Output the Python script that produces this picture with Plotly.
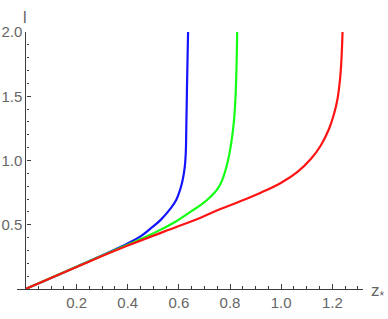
import plotly.graph_objects as go

# Data
z_blue = [0, 0.2, 0.4, 0.45, 0.488, 0.53, 0.567, 0.59, 0.606, 0.615, 0.623, 0.627, 0.629, 0.632, 0.636]
l_blue = [0, 0.174, 0.355, 0.41, 0.468, 0.54, 0.625, 0.695, 0.78, 0.85, 0.95, 1.06, 1.25, 1.6, 2.0]

z_green = [0, 0.2, 0.4, 0.48, 0.527, 0.59, 0.645, 0.69, 0.724, 0.75, 0.769, 0.791, 0.805, 0.815, 0.822, 0.828]
l_green = [0, 0.173, 0.345, 0.415, 0.46, 0.527, 0.60, 0.66, 0.718, 0.775, 0.845, 0.99, 1.14, 1.3, 1.52, 2.0]

z_red = [0, 0.2, 0.4, 0.6, 0.685, 0.76, 0.84, 0.92, 1.0, 1.064, 1.116, 1.155, 1.187, 1.207, 1.22, 1.23, 1.236, 1.24]
l_red = [0, 0.172, 0.338, 0.49, 0.555, 0.62, 0.683, 0.749, 0.827, 0.912, 1.012, 1.117, 1.245, 1.365, 1.476, 1.63, 1.8, 2.0]

x_ticks = [0.2, 0.4, 0.6, 0.8, 1.0, 1.2]
x_ticklabels = ["0.2", "0.4", "0.6", "0.8", "1.0", "1.2"]
y_ticks = [0.5, 1.0, 1.5, 2.0]
y_ticklabels = ["0.5", "1.0", "1.5", "2.0"]

X_RANGE = [-0.033, 1.32]
Y_RANGE = [0, 2.0]
AXIS_COLOR = "#3c3c3c"
TEXT_COLOR = "#666666"
FONT = "Liberation Sans, Arial, sans-serif"

fig = go.Figure()
for zs, ls, col in [(z_blue, l_blue, "#1414ff"), (z_green, l_green, "#14ff14"), (z_red, l_red, "#ff1414")]:
    fig.add_trace(go.Scatter(x=zs, y=ls, mode="lines",
                             line=dict(color=col, width=2.2, shape="spline", smoothing=1.2),
                             showlegend=False, hoverinfo="skip"))

ypos = (0 - X_RANGE[0]) / (X_RANGE[1] - X_RANGE[0])

fig.update_layout(
    width=388, height=319,
    margin=dict(l=17, r=25, t=32, b=30),
    paper_bgcolor="white", plot_bgcolor="white",
    font=dict(family=FONT, size=15, color=TEXT_COLOR),
    xaxis=dict(range=X_RANGE, showgrid=False, zeroline=False, automargin=False,
               showline=True, linecolor=AXIS_COLOR, linewidth=1.3,
               ticks="inside", ticklen=4.5, tickwidth=1, tickcolor=AXIS_COLOR,
               tickvals=x_ticks, ticktext=x_ticklabels,
               minor=dict(dtick=0.05, tick0=0, ticks="inside", ticklen=2.5, tickcolor=AXIS_COLOR, tickwidth=1),
               tickfont=dict(size=15, color=TEXT_COLOR)),
    yaxis=dict(range=Y_RANGE, showgrid=False, zeroline=False, automargin=False,
               anchor="free", position=ypos,
               showline=True, linecolor=AXIS_COLOR, linewidth=1.3,
               ticks="inside", ticklen=4.5, tickwidth=1, tickcolor=AXIS_COLOR,
               tickvals=y_ticks, ticktext=y_ticklabels,
               minor=dict(dtick=0.1, tick0=0, ticks="inside", ticklen=2.5, tickcolor=AXIS_COLOR, tickwidth=1),
               tickfont=dict(size=15, color=TEXT_COLOR)),
)

fig.add_annotation(x=0, y=2.0, xref="x", yref="y", text="l", showarrow=False,
                   xanchor="center", yanchor="bottom", yshift=4,
                   font=dict(size=16, color=TEXT_COLOR, family=FONT))
fig.add_annotation(x=1, y=0, xref="paper", yref="y", text="z<sub>*</sub>", showarrow=False,
                   xanchor="left", yanchor="middle", xshift=6, yshift=-3,
                   font=dict(size=17, color=TEXT_COLOR, family=FONT))

fig.write_html("out.html", config={"displayModeBar": False},
               post_script="document.body.style.margin='0';document.body.style.overflow='hidden';")
